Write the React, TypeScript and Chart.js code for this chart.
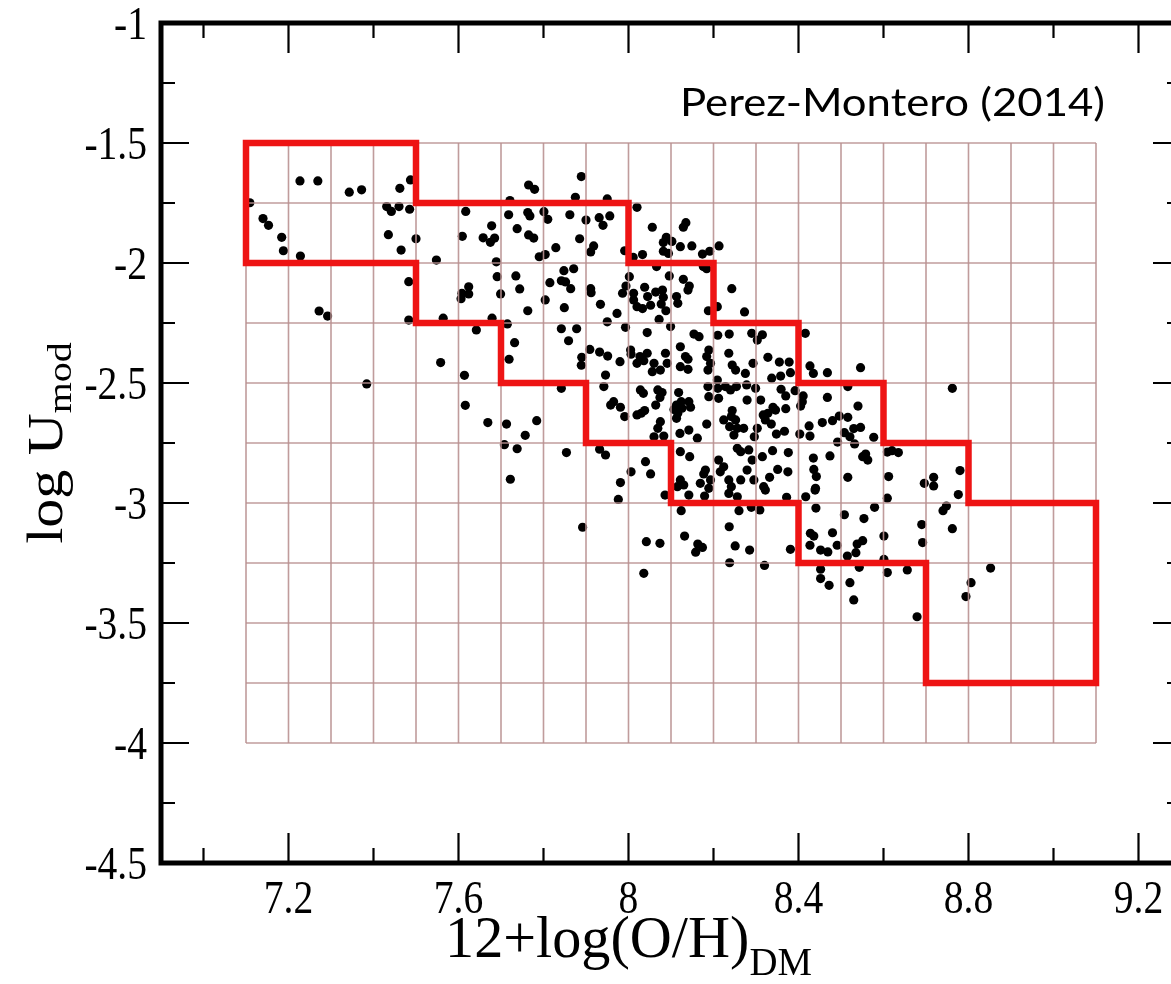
import React, { useEffect, useRef } from 'react';
import { Chart, registerables } from 'chart.js';

Chart.register(...registerables);

// ---------- data ----------
const xRange = [6.9, 9.3];
const yRange = [-4.5, -1];

const xMajorTicks = [7.2, 7.6, 8.0, 8.4, 8.8, 9.2];
const xTickLabels = ['7.2', '7.6', '8', '8.4', '8.8', '9.2'];
const xMinorTicks = [7.0, 7.4, 7.8, 8.2, 8.6, 9.0];
const yMajorTicks = [-1, -1.5, -2, -2.5, -3, -3.5, -4, -4.5];
const yTickLabels = ['-1', '-1.5', '-2', '-2.5', '-3', '-3.5', '-4', '-4.5'];
const yMinorTicks = [-1.25, -1.75, -2.25, -2.75, -3.25, -3.75, -4.25];

const gridX = [7.1, 7.2, 7.3, 7.4, 7.5, 7.6, 7.7, 7.8, 7.9, 8.0, 8.1, 8.2, 8.3, 8.4, 8.5, 8.6, 8.7, 8.8, 8.9, 9.0, 9.1];
const gridY = [-1.5, -1.75, -2.0, -2.25, -2.5, -2.75, -3.0, -3.25, -3.5, -3.75, -4.0];

const boxX = [7.1, 7.5, 7.5, 8.0, 8.0, 8.2, 8.2, 8.4, 8.4, 8.6, 8.6, 8.8, 8.8, 9.1, 9.1, 8.7, 8.7, 8.4, 8.4, 8.1, 8.1, 7.9, 7.9, 7.7, 7.7, 7.5, 7.5, 7.1, 7.1];
const boxY = [-1.5, -1.5, -1.75, -1.75, -2.0, -2.0, -2.25, -2.25, -2.5, -2.5, -2.75, -2.75, -3.0, -3.0, -3.75, -3.75, -3.25, -3.25, -3.0, -3.0, -2.75, -2.75, -2.5, -2.5, -2.25, -2.25, -2.0, -2.0, -1.5];

const galaxies: [number, number][] = [
  [7.227,-1.658],[7.269,-1.658],[7.343,-1.705],[7.372,-1.695],[7.462,-1.689],[7.487,-1.654],[7.109,-1.749],[7.431,-1.765],[7.442,-1.785],[7.460,-1.765],[7.485,-1.776],[7.140,-1.815],[7.153,-1.843],[7.184,-1.893],[7.188,-1.949],[7.228,-1.971],[7.435,-1.882],[7.500,-1.899],[7.465,-1.946],[7.548,-1.988],[7.483,-2.078],[7.272,-2.200],[7.292,-2.221],[7.483,-2.238],[7.384,-2.504],
  [7.889,-1.640],[7.765,-1.675],[7.779,-1.693],[7.721,-1.740],[7.875,-1.726],[7.950,-1.733],[7.617,-1.785],[7.718,-1.799],[7.763,-1.790],[7.768,-1.804],[7.801,-1.786],[7.810,-1.818],[7.862,-1.799],[7.900,-1.821],[7.931,-1.811],[7.940,-1.843],[7.956,-1.804],[8.020,-1.768],[7.678,-1.845],[7.609,-1.889],[7.658,-1.895],[7.675,-1.914],[7.685,-1.896],[7.738,-1.857],[7.765,-1.883],[7.777,-1.896],[7.885,-1.899],[7.829,-1.936],[7.918,-1.929],[7.911,-1.954],[7.790,-1.974],[7.804,-1.965],[7.991,-1.949],[8.011,-1.976],[7.689,-1.995],[7.691,-2.057],[7.735,-2.054],[7.744,-2.108],[7.699,-2.129],[7.624,-2.099],[7.608,-2.126],[7.606,-2.149],[7.624,-2.129],
  [7.815,-2.082],[7.848,-2.032],[7.871,-2.024],[7.842,-2.074],[7.852,-2.079],[7.864,-2.107],[7.911,-2.107],[7.912,-2.124],[7.804,-2.154],[7.763,-2.199],[7.849,-2.186],[7.934,-2.172],[8.002,-2.057],[7.994,-2.096],[7.986,-2.126],[8.012,-2.126],[7.973,-2.210],[8.012,-2.154],[8.020,-2.182],[7.679,-2.230],[7.564,-2.230],
  [8.056,-1.851],[8.129,-1.851],[8.135,-1.832],[8.089,-1.893],[8.102,-1.910],[8.082,-1.915],[8.122,-1.932],[8.149,-1.929],[8.082,-1.951],[8.094,-1.960],[8.174,-1.963],[8.191,-1.951],[8.213,-1.929],[8.033,-1.965],[8.066,-2.015],[8.176,-2.015],[8.184,-2.024],[8.096,-2.054],[8.129,-2.068],[8.143,-2.096],[8.140,-2.113],[8.243,-2.107],[8.038,-2.101],[8.045,-2.140],[8.064,-2.121],[8.080,-2.113],[8.082,-2.143],[8.052,-2.176],[8.077,-2.171],[8.033,-2.190],[8.113,-2.140],[8.116,-2.168],[8.088,-2.199],[8.072,-2.235],[8.188,-2.199],[8.209,-2.182],[8.273,-2.204],[8.044,-2.290],[8.099,-2.265],[8.154,-2.296],[8.166,-2.307],[8.210,-2.301],[8.237,-2.296],[8.290,-2.293],[8.315,-2.299],[8.416,-2.293],
  [7.642,-2.279],[7.715,-2.254],[7.732,-2.332],[7.719,-2.401],[7.558,-2.415],[7.614,-2.468],[7.842,-2.274],[7.878,-2.274],[7.859,-2.324],[7.909,-2.360],[7.890,-2.393],[7.889,-2.426],[7.932,-2.371],[7.842,-2.522],[7.616,-2.593],[7.669,-2.665],[7.713,-2.671],[7.784,-2.657],[7.757,-2.718],[7.708,-2.757],[7.738,-2.774],[7.854,-2.790],[7.722,-2.901],[7.932,-2.776],
  [7.950,-2.245],[7.993,-2.268],[7.951,-2.388],[7.980,-2.411],[7.946,-2.467],[8.005,-2.363],[8.006,-2.380],[8.027,-2.390],[8.036,-2.407],[8.020,-2.418],[8.044,-2.376],[8.060,-2.418],[8.056,-2.453],[8.075,-2.446],[8.087,-2.376],[8.091,-2.418],[8.122,-2.349],[8.134,-2.390],[8.140,-2.401],[8.122,-2.432],[8.140,-2.443],[8.189,-2.363],[8.184,-2.390],[8.193,-2.418],[8.187,-2.446],[8.236,-2.376],[8.244,-2.425],[8.252,-2.446],[8.275,-2.460],[8.293,-2.418],[8.303,-2.321],
  [7.942,-2.515],[7.965,-2.578],[7.958,-2.592],[7.981,-2.601],[7.991,-2.640],[8.020,-2.633],[8.030,-2.626],[8.038,-2.615],[8.028,-2.529],[8.035,-2.543],[8.064,-2.592],[8.069,-2.529],[8.079,-2.540],[8.074,-2.560],[8.075,-2.661],[8.069,-2.689],[8.083,-2.721],[8.060,-2.724],[8.118,-2.540],[8.124,-2.578],[8.113,-2.592],[8.107,-2.610],[8.116,-2.626],[8.126,-2.605],[8.142,-2.578],[8.146,-2.601],[8.113,-2.647],[8.121,-2.710],[8.142,-2.696],[8.162,-2.730],[8.184,-2.671],[8.187,-2.515],[8.189,-2.557],[8.209,-2.488],[8.210,-2.522],[8.228,-2.515],[8.240,-2.529],[8.254,-2.515],[8.244,-2.615],[8.242,-2.640],[8.252,-2.654],[8.224,-2.654],[8.238,-2.682],[8.256,-2.689],[8.248,-2.717],[8.271,-2.689],[8.212,-2.564],[8.279,-2.571],[8.299,-2.522],[8.311,-2.571],[8.317,-2.633],[8.322,-2.654],[8.303,-2.689],[8.296,-2.724],[8.278,-2.508],
  [7.946,-2.800],[8.006,-2.870],[7.981,-2.915],[8.040,-2.828],[8.052,-2.879],[8.122,-2.786],[8.144,-2.807],[8.122,-2.904],[8.130,-2.925],[8.115,-2.932],[8.181,-2.863],[8.177,-2.879],[8.193,-2.904],[8.169,-2.918],[8.189,-2.939],[8.212,-2.821],[8.224,-2.849],[8.216,-2.870],[8.236,-2.904],[8.242,-2.932],[8.256,-2.772],[8.264,-2.786],[8.283,-2.779],[8.291,-2.821],[8.279,-2.863],[8.295,-2.904],[8.318,-2.932],[8.315,-2.807],[8.264,-2.904],
  [8.328,-2.393],[8.355,-2.413],[8.378,-2.413],[8.381,-2.457],[8.358,-2.471],[8.337,-2.480],[8.427,-2.429],[8.435,-2.460],[8.468,-2.457],[8.546,-2.436],[8.359,-2.526],[8.370,-2.554],[8.392,-2.532],[8.411,-2.554],[8.409,-2.578],[8.405,-2.596],[8.468,-2.560],[8.516,-2.515],[8.540,-2.596],[8.340,-2.601],[8.346,-2.613],[8.370,-2.607],[8.328,-2.626],[8.336,-2.671],[8.367,-2.701],[8.348,-2.713],[8.403,-2.713],[8.425,-2.679],[8.427,-2.721],[8.456,-2.665],[8.480,-2.657],[8.496,-2.638],[8.516,-2.643],[8.508,-2.707],[8.521,-2.724],[8.492,-2.746],[8.532,-2.754],[8.530,-2.690],[8.546,-2.685],[8.577,-2.726],[8.762,-2.522],[8.339,-2.782],[8.376,-2.790],[8.435,-2.813],[8.474,-2.804],[8.551,-2.807],[8.558,-2.796],[8.563,-2.821],[8.609,-2.788],[8.620,-2.782],[8.635,-2.790],[8.351,-2.860],[8.375,-2.870],[8.436,-2.860],[8.442,-2.890],[8.332,-2.893],[8.516,-2.893],[8.612,-2.890],[8.696,-2.918],[8.718,-2.893],[8.718,-2.929],[8.780,-2.865],[8.440,-2.939],
  [7.976,-2.985],[8.086,-2.967],[8.142,-2.967],[8.179,-2.971],[8.236,-2.960],[8.256,-2.974],[8.322,-2.946],[8.124,-3.032],[8.260,-3.032],[8.289,-3.018],[8.309,-3.029],[7.892,-3.101],[8.237,-3.099],[8.132,-3.138],[8.042,-3.161],[8.074,-3.168],[8.163,-3.171],[8.174,-3.185],[8.158,-3.205],[8.251,-3.179],[8.285,-3.196],[8.238,-3.249],[8.320,-3.260],[8.036,-3.293],
  [8.439,-2.946],[8.417,-2.974],[8.372,-2.976],[8.609,-2.980],[8.776,-2.965],[8.441,-3.021],[8.508,-3.049],[8.554,-3.065],[8.579,-3.018],[8.740,-3.032],[8.748,-3.013],[8.762,-3.107],[8.690,-3.090],[8.428,-3.126],[8.436,-3.138],[8.480,-3.124],[8.381,-3.193],[8.427,-3.176],[8.452,-3.196],[8.469,-3.204],[8.491,-3.176],[8.515,-3.221],[8.535,-3.207],[8.538,-3.171],[8.551,-3.157],[8.601,-3.138],[8.692,-3.165],[8.601,-3.235],[8.452,-3.276],[8.543,-3.268],[8.609,-3.290],[8.656,-3.279],[8.452,-3.315],[8.472,-3.343],[8.521,-3.332],[8.530,-3.404],[8.679,-3.474],[8.852,-3.271],[8.806,-3.332],[8.794,-3.390],
];

const annotation = 'Perez-Montero (2014)';
const xTitle = '12+log(O/H)';
const xTitleSub = 'DM';
const yTitle = 'log U';
const yTitleSub = 'mod';

// ---------- layout / style ----------
const W = 1200;
const H = 984;
const AREA = { left: 161, top: 23, right: 1181, bottom: 863 };
const RED = '#ee1414';
const GRID = 'rgba(185,145,145,0.9)';
const SERIF = '"Liberation Serif", "Times New Roman", serif';
const SX = 0.86;

function scaledText(ctx: CanvasRenderingContext2D, text: string, x: number, y: number, font: string, align: CanvasTextAlign, sx = SX) {
  ctx.save();
  ctx.translate(x, y);
  ctx.scale(sx, 1);
  ctx.font = font;
  ctx.textAlign = align;
  ctx.textBaseline = 'alphabetic';
  ctx.fillText(text, 0, 0);
  ctx.restore();
}

const framePlugin = {
  id: 'frameAndText',
  afterDatasetsDraw(chart: any) {
    const { ctx, chartArea: a } = chart;
    const xs = chart.scales.x;
    const ys = chart.scales.y;
    ctx.save();
    ctx.strokeStyle = '#000';
    ctx.lineWidth = 2.2;
    ctx.beginPath();
    const tx = (v: number, len: number) => {
      const p = xs.getPixelForValue(v);
      ctx.moveTo(p, a.bottom); ctx.lineTo(p, a.bottom - len);
      ctx.moveTo(p, a.top); ctx.lineTo(p, a.top + len);
    };
    const ty = (v: number, len: number) => {
      const p = ys.getPixelForValue(v);
      ctx.moveTo(a.left, p); ctx.lineTo(a.left + len, p);
      ctx.moveTo(a.right, p); ctx.lineTo(a.right - len, p);
    };
    xMajorTicks.forEach((v) => tx(v, 30));
    xMinorTicks.forEach((v) => tx(v, 15));
    yMajorTicks.forEach((v) => ty(v, 28));
    yMinorTicks.forEach((v) => ty(v, 14));
    ctx.stroke();
    ctx.lineWidth = 5;
    ctx.strokeRect(a.left, a.top, a.right - a.left, a.bottom - a.top);

    ctx.fillStyle = '#000';
    // tick labels
    xMajorTicks.forEach((v, i) => {
      scaledText(ctx, xTickLabels[i], xs.getPixelForValue(v), a.bottom + 50, `46px ${SERIF}`, 'center');
    });
    yMajorTicks.forEach((v, i) => {
      scaledText(ctx, yTickLabels[i], a.left - 14, ys.getPixelForValue(v) + 16, `46px ${SERIF}`, 'right');
    });

    // x title
    const TSX = 0.97;
    ctx.font = `60px ${SERIF}`;
    const w1 = ctx.measureText(xTitle).width * TSX;
    ctx.font = `40px ${SERIF}`;
    const w2 = ctx.measureText(xTitleSub).width * TSX;
    const cx = xs.getPixelForValue(8.0);
    const sx0 = cx - (w1 + w2) / 2;
    scaledText(ctx, xTitle, sx0, 957, `60px ${SERIF}`, 'left', TSX);
    scaledText(ctx, xTitleSub, sx0 + w1, 975, `40px ${SERIF}`, 'left', TSX);

    // y title (rotated)
    ctx.font = `58px ${SERIF}`;
    const v1 = ctx.measureText(yTitle).width;
    ctx.font = `40px ${SERIF}`;
    const v2 = ctx.measureText(yTitleSub).width;
    const cy = (a.top + a.bottom) / 2;
    ctx.save();
    ctx.translate(62, cy + (v1 + v2) / 2);
    ctx.rotate(-Math.PI / 2);
    ctx.scale(1, SX);
    ctx.textAlign = 'left';
    ctx.textBaseline = 'alphabetic';
    ctx.font = `58px ${SERIF}`;
    ctx.fillText(yTitle, 0, 0);
    ctx.font = `40px ${SERIF}`;
    ctx.fillText(yTitleSub, v1, 10);
    ctx.restore();

    // annotation
    ctx.font = '38px Lato, "Open Sans", sans-serif';
    const aw = ctx.measureText(annotation).width;
    ctx.save();
    ctx.translate(680, 116);
    ctx.scale(425 / aw, 1);
    ctx.textAlign = 'left';
    ctx.textBaseline = 'alphabetic';
    ctx.fillText(annotation, 0, 0);
    ctx.restore();

    ctx.restore();
  },
};

export default function App() {
  const ref = useRef<HTMLCanvasElement>(null);
  useEffect(() => {
    const canvas = ref.current;
    if (!canvas) return;
    const gridStyle = { showLine: true, borderColor: GRID, borderWidth: 1.6, pointRadius: 0, order: 2 };
    const gridSets = [
      ...gridX.map((gx) => ({ data: [{ x: gx, y: gridY[0] }, { x: gx, y: gridY[gridY.length - 1] }], ...gridStyle })),
      ...gridY.map((gy) => ({ data: [{ x: gridX[0], y: gy }, { x: gridX[gridX.length - 1], y: gy }], ...gridStyle })),
    ];
    const chart = new Chart(canvas, {
      type: 'scatter',
      data: {
        datasets: [
          {
            data: galaxies.map(([x, y]) => ({ x, y })),
            pointRadius: 4.6,
            pointBackgroundColor: '#000',
            pointBorderWidth: 0,
            backgroundColor: '#000',
            borderWidth: 0,
            order: 3,
          },
          ...gridSets,
          {
            data: boxX.map((x, i) => ({ x, y: boxY[i] })),
            showLine: true,
            borderColor: RED,
            borderWidth: 6.5,
            pointRadius: 0,
            borderJoinStyle: 'miter',
            borderCapStyle: 'square',
            tension: 0,
            order: 1,
          },
        ] as any,
      },
      options: {
        responsive: false,
        animation: false,
        events: [],
        layout: { padding: { left: AREA.left, top: AREA.top, right: W - AREA.right, bottom: H - AREA.bottom } },
        scales: {
          x: { type: 'linear', min: xRange[0], max: xRange[1], display: false },
          y: { type: 'linear', min: yRange[0], max: yRange[1], display: false },
        },
        plugins: { legend: { display: false }, tooltip: { enabled: false } },
      },
      plugins: [framePlugin],
    });
    return () => chart.destroy();
  }, []);
  return (
    <div style={{ position: 'fixed', left: 0, top: 0, width: 1171, height: 984, overflow: 'hidden', background: '#fff' }}>
      <canvas ref={ref} width={W} height={H} style={{ display: 'block', width: W, height: H }} />
    </div>
  );
}
